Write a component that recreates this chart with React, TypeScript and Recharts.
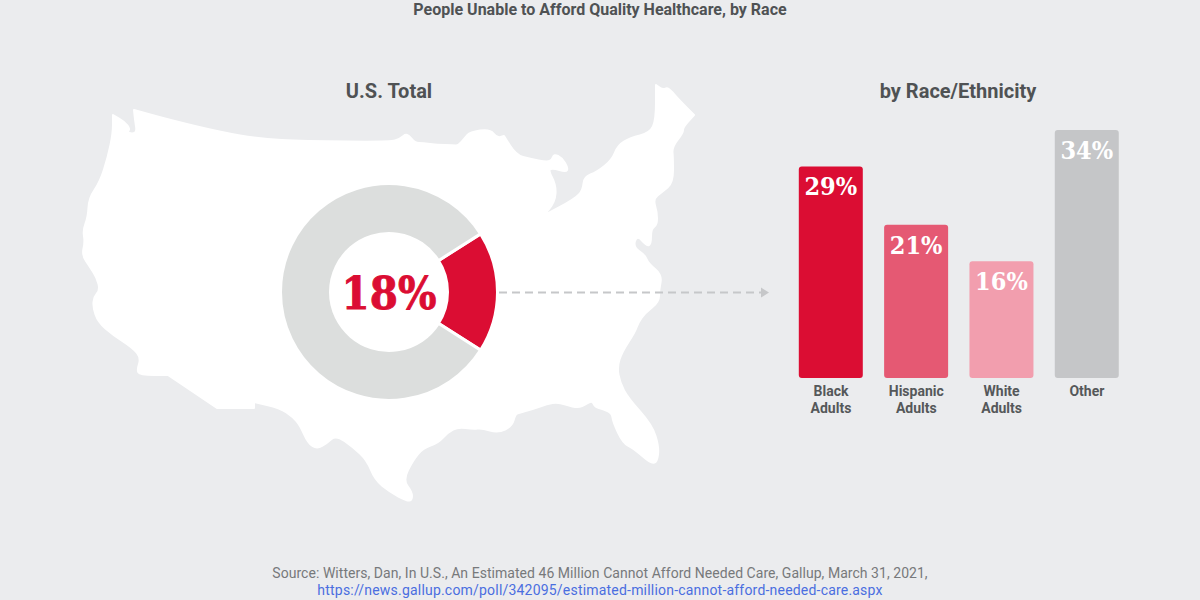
import { BarChart, Bar, XAxis, YAxis, Cell, LabelList, PieChart, Pie } from 'recharts';

const chartTitle = 'People Unable to Afford Quality Healthcare, by Race';
const leftTitle = 'U.S. Total';
const rightTitle = 'by Race/Ethnicity';
const sourceLine = 'Source: Witters, Dan, In U.S., An Estimated 46 Million Cannot Afford Needed Care, Gallup, March 31, 2021,';
const sourceLink = 'https://news.gallup.com/poll/342095/estimated-million-cannot-afford-needed-care.aspx';

const totalShare = 18;
const totalNames = ['Unable to afford', 'Everyone else'];
const totalValues = [totalShare, 100 - totalShare];
const totalColors = ['#db0d33', '#dcdedd'];

const raceNames = ['Black Adults', 'Hispanic Adults', 'White Adults', 'Other'];
const raceValues = [29, 21, 16, 34];
const raceColors = ['#db0d33', '#e55973', '#f29eae', '#c5c6c8'];

const totalData = totalNames.map((name, i) => ({ name, value: totalValues[i] }));
const raceData = raceNames.map((name, i) => ({ name, value: raceValues[i] }));

// backdrop silhouette, hand traced. a doubled point keeps a hard corner
const usOutline: number[][] = [
  [113,115],[113,115],[125,122],[130,129],[127,132],[132,134],[137,132],[135,120],[134,110],[134,110],
  [170,120],[220,132],[260,139],[303,141],[390,142],[400,139],[407,133],[415,143],[423,143],[437,145],
  [453,145],[458,146],[465,138],[470,132],[490,129],[497,138],[504,136],[504,136],[516,155],[530,159],
  [547,162],[552,160],[554,154],[562,158],[568,168],[566,172],[553,168],[548,170],[556,185],[555,202],
  [543,216],[543,216],[575,199],[583,190],[584,177],[597,172],[612,160],[618,145],[630,138],[650,133],
  [656,120],[656,85],[656,85],[663,90],[668,87],[677,98],[694,115],[694,115],[683,127],[683,133],
  [672,147],[673,158],[673,183],[662,192],[653,199],[657,212],[657,225],[651,229],[651,244],[647,246],
  [637,235],[633,247],[645,255],[648,263],[662,275],[659,290],[659,302],[645,313],[638,323],[635,332],
  [622,352],[617,367],[620,383],[628,398],[652,425],[659,447],[657,462],[652,463],[647,460],[633,448],
  [623,443],[613,422],[612,413],[603,409],[595,407],[592,400],[582,407],[573,407],[558,402],[547,404],
  [533,409],[518,413],[515,415],[512,426],[498,433],[482,428],[473,429],[458,427],[448,432],[438,443],
  [423,448],[413,460],[403,480],[412,492],[412,500],[407,501],[390,492],[375,480],[367,460],[353,447],
  [336,435],[327,443],[317,449],[308,443],[300,425],[293,417],[280,408],[254,402],[254,402],[254,408],
  [254,408],[217,408],[217,408],[168,375],[168,375],[140,375],[137,370],[141,358],[133,348],[113,335],
  [98,322],[93,307],[94,297],[100,290],[97,278],[90,267],[82,255],[85,242],[83,230],[88,217],
  [89,198],[100,182],[108,157],[113,133],
];

function outlinePath(pts: number[][]) {
  const mid = (a: number[], b: number[]) => `${(a[0] + b[0]) / 2} ${(a[1] + b[1]) / 2}`;
  let d = `M${mid(pts[pts.length - 1], pts[0])}`;
  pts.forEach((p, i) => {
    d += ` Q${p[0]} ${p[1]} ${mid(p, pts[(i + 1) % pts.length])}`;
  });
  return d + 'Z';
}

const ink = '#4f5254';
const sans = 'Roboto, sans-serif';
const serif = '"DejaVu Serif", serif';

function RaceTick({ x, y, payload }: any) {
  const words = String(payload.value).split(' ');
  return (
    <text x={x + 0.5} y={y} textAnchor="middle" fill="#55585a" fontFamily={sans} fontSize={14} fontWeight={700}>
      {words.map((w, i) => (
        <tspan key={w} x={x + 0.5} dy={i === 0 ? 10 : 17}>{w}</tspan>
      ))}
    </text>
  );
}

function Heading({ text, center, top, size, weight }: any) {
  return (
    <div style={{ position: 'absolute', left: center - 300, width: 600, top, textAlign: 'center', fontFamily: sans, fontSize: size, fontWeight: weight, color: ink, lineHeight: 1.2 }}>
      {text}
    </div>
  );
}

export default function App() {
  return (
    <div style={{ position: 'absolute', left: 0, top: 0, width: 1200, height: 600, background: '#ebecee', overflow: 'hidden' }}>
      <Heading text={chartTitle} center={600} top={0} size={16} weight={700} />
      <Heading text={leftTitle} center={389} top={79} size={20} weight={700} />
      <Heading text={rightTitle} center={958} top={79} size={20} weight={700} />

      <svg width={1200} height={600} style={{ position: 'absolute', left: 0, top: 0 }}>
        <path d={outlinePath(usOutline)} fill="#ffffff" stroke="#ffffff" strokeWidth={2} strokeLinejoin="round" />
      </svg>

      <div style={{ position: 'absolute', left: 269, top: 172 }}>
        <PieChart width={240} height={240} margin={{ top: 0, right: 0, bottom: 0, left: 0 }}>
          <Pie
            data={totalData}
            dataKey="value"
            nameKey="name"
            cx={120}
            cy={120}
            innerRadius={58.5}
            outerRadius={108.5}
            startAngle={32.4}
            endAngle={-327.6}
            stroke="#ffffff"
            strokeWidth={3}
            isAnimationActive={false}
          >
            {totalData.map((d, i) => (
              <Cell key={d.name} fill={totalColors[i]} />
            ))}
          </Pie>
          <text x={120} y={137} textAnchor="middle" fill={totalColors[0]} stroke={totalColors[0]} strokeWidth={0.8} fontFamily={serif} fontWeight={700} fontSize={45} style={{ fontStretch: 'condensed' }}>
            {totalShare}%
          </text>
        </PieChart>
      </div>

      <svg width={1200} height={600} style={{ position: 'absolute', left: 0, top: 0 }}>
        <line x1={499} y1={292.5} x2={762} y2={292.5} stroke="#c6c7c9" strokeWidth={2} strokeDasharray="8 5" />
        <path d="M761 287.5 L769 292.5 L761 297.5 Z" fill="#c6c7c9" />
      </svg>

      <div style={{ position: 'absolute', left: 770, top: 100 }}>
        <BarChart width={400} height={330} data={raceData} margin={{ top: 30, right: 40.9, bottom: 0, left: 17.8 }} barSize={64}>
          <XAxis dataKey="name" axisLine={false} tickLine={false} height={52} interval={0} tick={<RaceTick />} />
          <YAxis hide domain={[0, 34]} />
          <Bar dataKey="value" radius={3} isAnimationActive={false}>
            {raceData.map((d, i) => (
              <Cell key={d.name} fill={raceColors[i]} />
            ))}
            <LabelList
              dataKey="value"
              position="insideTop"
              offset={11}
              formatter={(v: any) => `${v}%`}
              fill="#ffffff"
              style={{ fontFamily: serif, fontWeight: 700, fontSize: 25, fontStretch: 'condensed' }}
            />
          </Bar>
        </BarChart>
      </div>

      <div style={{ position: 'absolute', left: 0, width: 1200, top: 565, textAlign: 'center', fontFamily: sans, fontSize: 14, lineHeight: '17px', color: '#77797b' }}>
        <div style={{ letterSpacing: 0.04 }}>{sourceLine}</div>
        <div style={{ color: '#4a6ee0', letterSpacing: 0.2 }}>{sourceLink}</div>
      </div>
    </div>
  );
}
